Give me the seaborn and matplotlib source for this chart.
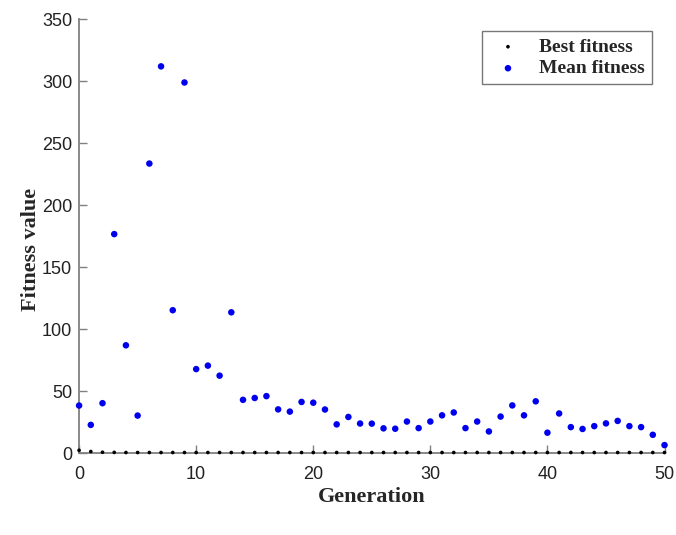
import matplotlib
matplotlib.use("Agg")
import matplotlib.pyplot as plt
import seaborn as sns
import numpy as np
import pandas as pd

generations = list(range(51))
mean_fitness = [38.4, 22.8, 40.3, 176.7, 87.0, 30.3, 233.6, 312.0, 115.3, 299.0,
                67.8, 70.6, 62.5, 113.6, 43.0, 44.5, 46.0, 35.3, 33.5, 41.3,
                40.7, 35.2, 23.2, 29.2, 23.9, 23.8, 20.0, 19.7, 25.5, 20.2,
                25.5, 30.5, 32.8, 20.2, 25.5, 17.5, 29.5, 38.5, 30.5, 41.8,
                16.5, 32.0, 21.0, 19.5, 21.8, 24.0, 26.0, 21.8, 21.0, 14.8, 6.5]
best_fitness = [2.3, 1.3, 0.7, 0.6, 0.5, 0.5, 0.5, 0.5, 0.5, 0.5,
                0.5, 0.5, 0.5, 0.5, 0.5, 0.5, 0.5, 0.5, 0.5, 0.5,
                0.5, 0.5, 0.5, 0.5, 0.5, 0.5, 0.5, 0.5, 0.5, 0.5,
                0.5, 0.5, 0.5, 0.5, 0.5, 0.5, 0.5, 0.5, 0.5, 0.5,
                0.5, 0.5, 0.5, 0.5, 0.5, 0.5, 0.5, 0.5, 0.5, 0.5, 0.5]
x_ticks = [0, 10, 20, 30, 40, 50]
y_ticks = [0, 50, 100, 150, 200, 250, 300, 350]

df = pd.DataFrame({"Generation": generations, "Best": best_fitness, "Mean": mean_fitness})

sns.set_theme(style="white")
plt.rcParams["font.family"] = ["Liberation Sans", "DejaVu Sans"]

fig = plt.figure(figsize=(6.76, 5.35), dpi=100)
ax = fig.add_axes([0.117, 0.153, 0.866, 0.811])

sns.scatterplot(data=df, x="Generation", y="Best", ax=ax, color="black", s=7,
                edgecolor="none", label="Best fitness", clip_on=False, zorder=3)
sns.scatterplot(data=df, x="Generation", y="Mean", ax=ax, color="#0000ee", s=22,
                edgecolor="none", label="Mean fitness", clip_on=False, zorder=3)

ax.set_xlim(0, 50)
ax.set_ylim(0, 350)
ax.set_xticks(x_ticks)
ax.set_yticks(y_ticks)
ax.tick_params(axis="both", direction="in", length=6, width=1, color="#808080",
               labelsize=13, labelcolor="#222222", left=True, bottom=True)
ax.tick_params(axis="x", pad=9)
ax.tick_params(axis="y", pad=5)
for side in ["top", "right"]:
    ax.spines[side].set_visible(False)
for side in ["left", "bottom"]:
    ax.spines[side].set_color("#808080")
    ax.spines[side].set_linewidth(1.3)

serif = ["Liberation Serif", "DejaVu Serif"]
ax.set_xlabel("Generation", fontsize=16, fontweight="bold", family=serif, labelpad=3)
ax.set_ylabel("Fitness value", fontsize=16, fontweight="bold", family=serif)
ax.yaxis.set_label_coords(-0.065, 0.47)

leg = ax.legend(loc="upper right", bbox_to_anchor=(0.978, 0.972), borderaxespad=0,
                frameon=True, fancybox=False, edgecolor="#555555",
                prop={"family": serif, "weight": "bold", "size": 14},
                handletextpad=0.6, borderpad=0.35, labelspacing=0.2, markerscale=1.0,
                handlelength=2.0)
leg.get_frame().set_linewidth(1.0)

fig.savefig("out.png", dpi=100, facecolor="white")
